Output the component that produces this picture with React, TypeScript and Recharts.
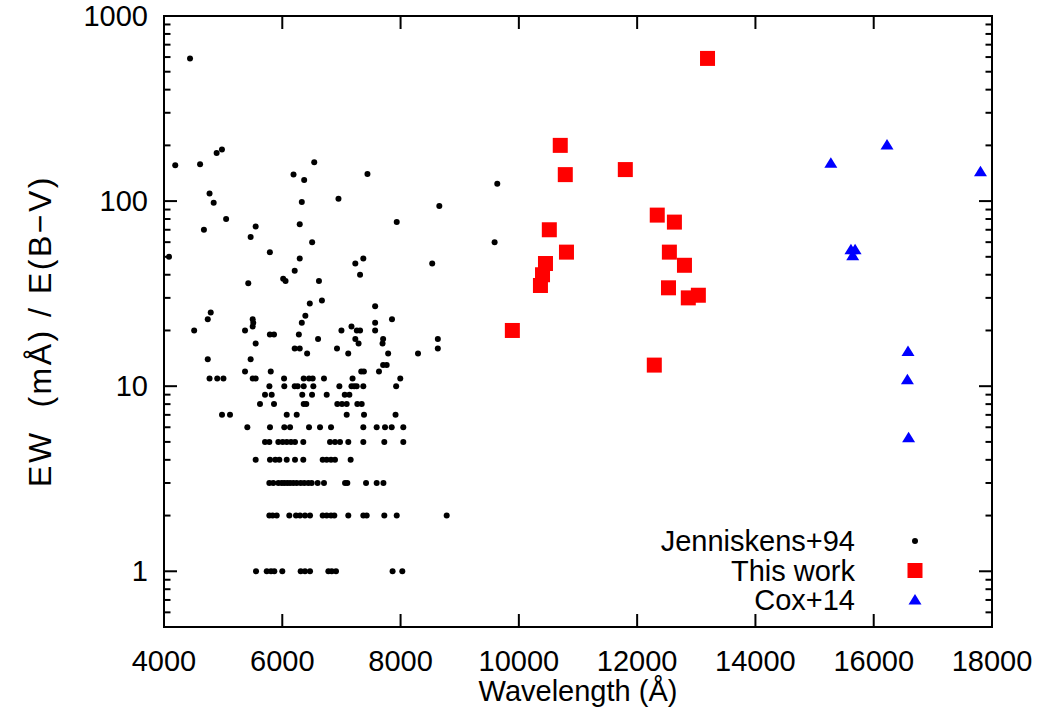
import React from 'react';
import { ScatterChart, Scatter, XAxis, YAxis, ReferenceArea } from 'recharts';

const W = 1042;
const H = 722;
const PLOT = { left: 164, top: 16, right: 992, bottom: 627 };
const FONT = '"Liberation Sans", Arial, Helvetica, sans-serif';
const FS = 29;

const X_TICKS = [4000, 6000, 8000, 10000, 12000, 14000, 16000, 18000];
const Y_MAJOR = [1, 10, 100, 1000];

// Jenniskens+94: scattered points, [wavelength, EW/E(B-V)]
const jenScattered: [number, number][] = [
  [4440, 590], [4190, 156], [4610, 158], [4890, 182], [4980, 190], [4770, 110], [4840, 98],
  [5050, 80], [6190, 139], [6370, 130], [6540, 162], [6330, 99], [6950, 103], [7440, 140],
  [8655, 94], [9635, 124], [4085, 50], [4675, 70], [5550, 73], [5465, 64], [6295, 75],
  [6505, 60], [5790, 53], [6295, 49], [6210, 42], [6015, 38], [6055, 37], [6620, 37],
  [5425, 36], [7235, 46], [7370, 49], [7315, 40], [6670, 29], [6465, 28], [7570, 27],
  [6390, 24], [4790, 25], [4740, 23], [5500, 23], [5510, 22], [5500, 21], [6330, 22],
  [4510, 20], [5370, 20], [7000, 20], [7170, 21], [7260, 20], [7315, 20], [7570, 22],
  [7570, 20], [5790, 19], [5860, 19], [6280, 19], [5550, 17], [6605, 18], [7235, 18],
  [7290, 17], [6210, 16], [6295, 16], [6420, 15], [6925, 16], [7115, 15], [4740, 14],
  [5465, 14], [5370, 12], [5805, 12], [7335, 12], [7380, 12], [7635, 12], [7935, 77],
  [9590, 60], [8535, 46], [7855, 23], [7705, 18], [7695, 17], [8630, 18], [8630, 16],
  [7790, 15], [8295, 15], [7705, 13], [7765, 13],
];

// Jenniskens+94: wavelengths of the lines sitting on integer EW rows
const jenEw11 = [4770, 4900, 5005, 5500, 5550, 6030, 6362, 6452, 6514, 6705, 7188, 7995];
const jenEw10 = [5782, 6034, 6210, 6260, 6362, 6525, 6965, 7170, 7216, 7258, 7370, 7925];
const jenEw9 = [5708, 5821, 6338, 6503, 6751, 7056, 7134];
const jenEw8 = [5623, 5860, 6362, 6406, 6930, 7010, 7089, 7269, 7343];
const jenEw7 = [4981, 5116, 6075, 6244, 7089, 7382, 7915];
const jenEw6 = [5409, 5792, 6034, 6131, 6452, 6638, 6824, 7370, 7596, 7737, 7850, 8046];
const jenEw5 = [5708, 5781, 5933, 6007, 6075, 6147, 6215, 6355, 6807, 6891, 6976, 7116, 7370, 7725, 8046];
const jenEw4 = [5550, 5792, 5882, 5950, 6075, 6215, 6355, 6683, 6751, 6824, 6891, 7156];
const jenEw3 = [5781, 5848, 5933, 5990, 6034, 6084, 6131, 6186, 6244, 6311, 6372, 6440, 6497, 6598, 6705, 7061, 7100, 7416, 7596, 7710];
const jenEw2 = [5781, 5837, 5906, 6119, 6232, 6300, 6384, 6469, 6683, 6751, 6824, 6880, 7116, 7370, 7427, 7725, 7935, 8780];
const jenEw1 = [5556, 5737, 5809, 5865, 6000, 6311, 6384, 6469, 6779, 6836, 6908, 7865, 8029];

// This work
const thisWork: [number, number][] = [
  [13190, 590], [10700, 200], [10785, 139], [11800, 148], [12340, 84], [12630, 77],
  [10515, 70], [10805, 53], [12545, 53], [12800, 45], [10450, 46], [10400, 40],
  [10365, 35], [12530, 34], [12865, 30], [13035, 31], [9890, 20], [12290, 13],
];

// Cox+14
const cox14: [number, number][] = [
  [16225, 202], [15275, 161], [17805, 145], [15615, 55], [15685, 55], [15645, 51],
  [16580, 15.5], [16570, 10.9], [16590, 5.3],
];

const jenRows: [number, number[]][] = [
  [11, jenEw11], [10, jenEw10], [9, jenEw9], [8, jenEw8], [7, jenEw7], [6, jenEw6],
  [5, jenEw5], [4, jenEw4], [3, jenEw3], [2, jenEw2], [1, jenEw1],
];

const jenData = [
  ...jenScattered.map(([x, y]) => ({ x, y })),
  ...jenRows.flatMap(([y, xs]) => xs.map((x) => ({ x, y }))),
];
const workData = thisWork.map(([x, y]) => ({ x, y }));
const coxData = cox14.map(([x, y]) => ({ x, y }));

// log axis ticks: 2..9 minors in each decade
const yTicks: number[] = [];
[0.1, 1, 10, 100].forEach((d) => {
  for (let m = 1; m <= 9; m++) {
    const v = +(m * d).toPrecision(3);
    if (v >= 0.6) yTicks.push(v);
  }
});
yTicks.push(1000);

const YTick = (props: any) => {
  const { x, y, payload } = props;
  const v = payload.value;
  const major = Y_MAJOR.includes(v);
  const len = major ? 13 : 6.5;
  return (
    <g>
      <line x1={PLOT.left} x2={PLOT.left + len} y1={y} y2={y} stroke="#000" strokeWidth={2} />
      <line x1={PLOT.right} x2={PLOT.right - len} y1={y} y2={y} stroke="#000" strokeWidth={2} />
      {major && (
        <text x={x} y={y} textAnchor="end" dominantBaseline="central" fontFamily={FONT} fontSize={FS} fill="#000">
          {v}
        </text>
      )}
    </g>
  );
};

const XTick = (props: any) => {
  const { x, y, payload } = props;
  return (
    <g>
      <line x1={x} x2={x} y1={PLOT.bottom} y2={PLOT.bottom - 13} stroke="#000" strokeWidth={2} />
      <line x1={x} x2={x} y1={PLOT.top} y2={PLOT.top + 13} stroke="#000" strokeWidth={2} />
      <text x={x} y={y} textAnchor="middle" dominantBaseline="central" fontFamily={FONT} fontSize={FS} fill="#000">
        {payload.value}
      </text>
    </g>
  );
};

const Dot = (p: any) => <circle cx={p.cx} cy={p.cy} r={3} fill="#000" />;
const Square = (p: any) => <rect x={p.cx - 7.5} y={p.cy - 7.5} width={15} height={15} fill="#ff0000" />;
const Triangle = (p: any) => (
  <path d={`M${p.cx},${p.cy - 5.5}L${p.cx + 6.5},${p.cy + 5}L${p.cx - 6.5},${p.cy + 5}Z`} fill="#0000ff" />
);

const legendItems = [
  { name: 'Jenniskens+94', y: 541, mark: (cx: number, cy: number) => <Dot cx={cx} cy={cy} /> },
  { name: 'This work', y: 570.5, mark: (cx: number, cy: number) => <Square cx={cx} cy={cy} /> },
  { name: 'Cox+14', y: 599.5, mark: (cx: number, cy: number) => <Triangle cx={cx} cy={cy} /> },
];

export default function App() {
  const xAxisHeight = 60;
  const yLabelY = 331;
  return (
    <div style={{ position: 'absolute', left: 0, top: 0, width: W, height: H, background: '#fff' }}>
      <ScatterChart
        width={W}
        height={H}
        margin={{ top: PLOT.top, right: W - PLOT.right, bottom: H - PLOT.bottom - xAxisHeight, left: 0 }}
      >
        <XAxis
          type="number"
          dataKey="x"
          domain={[4000, 18000]}
          allowDataOverflow
          ticks={X_TICKS}
          interval={0}
          height={xAxisHeight}
          axisLine={false}
          tickLine={false}
          tickSize={0}
          tickMargin={34}
          tick={<XTick />}
        />
        <YAxis
          type="number"
          dataKey="y"
          scale="log"
          domain={[0.5, 1000]}
          allowDataOverflow
          ticks={yTicks}
          interval={0}
          width={PLOT.left}
          axisLine={false}
          tickLine={false}
          tickSize={0}
          tickMargin={16}
          tick={<YTick />}
        />
        <Scatter data={jenData} shape={Dot} isAnimationActive={false} />
        <Scatter data={workData} shape={Square} isAnimationActive={false} />
        <Scatter data={coxData} shape={Triangle} isAnimationActive={false} />
        <ReferenceArea x1={4000} x2={18000} y1={0.5} y2={1000} fill="none" stroke="#000" strokeWidth={2} />
      </ScatterChart>
      <svg width={W} height={H} style={{ position: 'absolute', left: 0, top: 0, pointerEvents: 'none' }}>
        <text
          x={40}
          y={yLabelY}
          transform={`rotate(-90 40 ${yLabelY})`}
          textAnchor="middle"
          dominantBaseline="central"
          fontFamily={FONT}
          fontSize={32}
          letterSpacing={2.5}
          style={{ whiteSpace: 'pre' }}
        >
          {'EW  (mÅ) / E(B−V)'}
        </text>
        <text
          x={(PLOT.left + PLOT.right) / 2}
          y={691}
          textAnchor="middle"
          dominantBaseline="central"
          fontFamily={FONT}
          fontSize={FS}
        >
          Wavelength (Å)
        </text>
        {legendItems.map((it) => (
          <g key={it.name}>
            <text x={855} y={it.y} textAnchor="end" dominantBaseline="central" fontFamily={FONT} fontSize={FS}>
              {it.name}
            </text>
            {it.mark(915, it.y)}
          </g>
        ))}
      </svg>
    </div>
  );
}
